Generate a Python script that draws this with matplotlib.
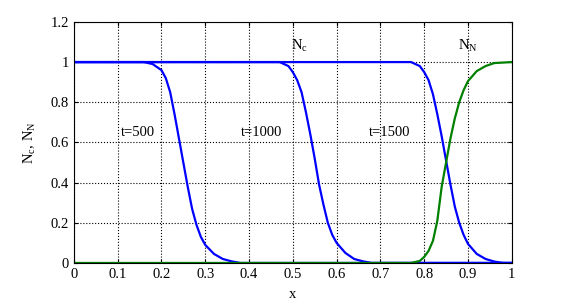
import matplotlib
matplotlib.use('Agg')
import matplotlib.pyplot as plt

# front profiles N_c at three times, and N_N at t=1500
x_t500 = [0, 0.16, 0.18, 0.20, 0.21, 0.22, 0.23, 0.24, 0.25, 0.26, 0.27, 0.28, 0.29, 0.30, 0.32, 0.34, 0.36, 0.38, 1.0]
nc_t500 = [1, 1, 0.99, 0.96, 0.92, 0.85, 0.74, 0.62, 0.50, 0.38, 0.27, 0.19, 0.13, 0.09, 0.045, 0.02, 0.008, 0, 0]

x_t1000 = [0, 0.47, 0.49, 0.50, 0.51, 0.52, 0.53, 0.54, 0.55, 0.56, 0.57, 0.58, 0.59, 0.60, 0.62, 0.64, 0.66, 0.68, 1.0]
nc_t1000 = [1, 1, 0.98, 0.95, 0.91, 0.85, 0.75, 0.64, 0.52, 0.39, 0.29, 0.20, 0.14, 0.10, 0.05, 0.02, 0.008, 0, 0]

x_t1500 = [0, 0.77, 0.79, 0.80, 0.81, 0.82, 0.83, 0.84, 0.85, 0.86, 0.87, 0.88, 0.89, 0.90, 0.92, 0.94, 0.96, 0.98, 1.0]
nc_t1500 = [1, 1, 0.98, 0.95, 0.91, 0.84, 0.74, 0.63, 0.51, 0.39, 0.28, 0.20, 0.14, 0.095, 0.045, 0.02, 0.007, 0, 0]

x_nn = [0, 0.77, 0.79, 0.80, 0.81, 0.82, 0.83, 0.84, 0.85, 0.86, 0.87, 0.88, 0.89, 0.90, 0.92, 0.94, 0.96, 1.0]
nn_t1500 = [0, 0, 0.01, 0.03, 0.06, 0.11, 0.21, 0.38, 0.50, 0.62, 0.72, 0.80, 0.86, 0.905, 0.955, 0.98, 0.995, 1]

x_ticks = [0, 0.1, 0.2, 0.3, 0.4, 0.5, 0.6, 0.7, 0.8, 0.9, 1]
x_ticklabels = ['0', '0.1', '0.2', '0.3', '0.4', '0.5', '0.6', '0.7', '0.8', '0.9', '1']
y_ticks = [0, 0.2, 0.4, 0.6, 0.8, 1, 1.2]
y_ticklabels = ['0', '0.2', '0.4', '0.6', '0.8', '1', '1.2']

plt.rcParams['font.family'] = ['Liberation Serif', 'DejaVu Serif']
fs = 10.5

fig = plt.figure(figsize=(5.68, 3.04), dpi=100)
ax = fig.add_axes([0.130, 0.135, 0.771, 0.793])

blue = '#0000ff'
green = '#008000'
lw = 1.6
ax.plot(x_t500, nc_t500, color=blue, lw=lw)
ax.plot(x_t1000, nc_t1000, color=blue, lw=lw)
ax.plot(x_t1500, nc_t1500, color=blue, lw=lw)
ax.plot(x_nn, nn_t1500, color=green, lw=lw)

ax.set_xlim(0, 1)
ax.set_ylim(0, 1.2)
ax.set_xticks(x_ticks)
ax.set_xticklabels(x_ticklabels)
ax.set_yticks(y_ticks)
ax.set_yticklabels(y_ticklabels)
ax.tick_params(direction='in', length=3, width=0.8, top=True, right=True, labelsize=fs)
ax.grid(True, color='black', linestyle=':', linewidth=0.8)
ax.set_axisbelow(True)
for s in ax.spines.values():
    s.set_linewidth(0.8)

ax.text(0.146, 0.65, 't=500', ha='center', va='center', fontsize=fs)
ax.text(0.429, 0.65, 't=1000', ha='center', va='center', fontsize=fs)
ax.text(0.72, 0.65, 't=1500', ha='center', va='center', fontsize=fs)
ax.text(0.516, 1.08, r'N$_\mathregular{c}$', ha='center', va='center', fontsize=fs)
ax.text(0.90, 1.08, r'N$_\mathregular{N}$', ha='center', va='center', fontsize=fs)

ax.set_xlabel('x', fontsize=fs, labelpad=5)
ax.set_ylabel(r'N$_\mathregular{c}$, N$_\mathregular{N}$', fontsize=fs, labelpad=9)

fig.savefig('out.png', dpi=100)
